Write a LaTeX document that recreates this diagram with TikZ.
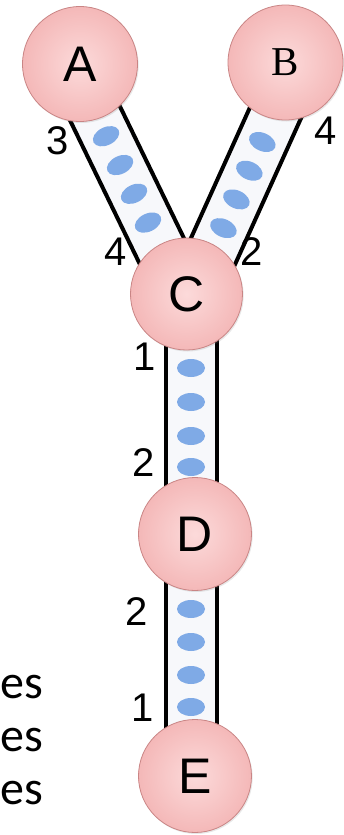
\documentclass[tikz,border=0pt]{standalone}
\usepackage{fontspec}
\setmainfont{Liberation Sans}
\newfontfamily\serifB{Liberation Serif}
\newfontfamily\calib{Carlito}
\usetikzlibrary{shadows}
\definecolor{chfill}{HTML}{F7F8FB}
\definecolor{ovalc}{HTML}{7FAAE6}
\definecolor{pinkin}{HTML}{FCDADA}
\definecolor{pinkout}{HTML}{F4B8B8}
\definecolor{pinkline}{HTML}{C98585}
\pgfdeclarelayer{bg}
\pgfsetlayers{bg,main}
\begin{document}
\begin{tikzpicture}[x=1pt,y=-1pt,
  peer/.style={circle, draw=pinkline, line width=0.8pt, inner color=pinkin,
    outer color=pinkout, minimum size=#1, inner sep=0pt,
    font=\fontsize{50}{50}\selectfont,
    drop shadow={opacity=0.18, shadow xshift=1.2pt, shadow yshift=-1.5pt}},
  peer/.default=115pt,
  wall/.style={line width=4pt, black},
  num/.style={inner sep=0pt, font=\fontsize{40}{40}\selectfont},
  cut/.style={anchor=base west, inner sep=0pt, font=\calib\fontsize{48}{48}\selectfont},
  channel/.pic={
    \fill[chfill] (-86,-25.5) rectangle (86,25.5);
    \draw[wall] (-86,-25.5) -- (86,-25.5);
    \draw[wall] (-86,25.5) -- (86,25.5);
    \foreach \t in {#1} {\fill[ovalc] (\t,0) ellipse [x radius=9pt, y radius=14pt];}
  }]
\useasboundingbox (0,0) rectangle (343,835);
% peers
\node[peer] (A) at (80,64) {A};
\node[peer, font=\serifB\fontsize{41}{41}\selectfont] (B) at (285.5,62.5) {B};
\node[peer=112pt] (C) at (186.5,294) {C};
\node[peer=113pt] (D) at (195,534) {D};
\node[peer=113pt] (E) at (195,776) {E};
% channel anchors
\coordinate (ACm) at (128.8,183);
\coordinate (BCm) at (243.8,183);
\coordinate (CDm) at (191,415);
\coordinate (DEm) at (191,655);
\begin{pgfonlayer}{bg}
  \pic[rotate=-64.1] at (ACm) {channel={-52,-20,12,44}};
  \pic[rotate=-114.3] at (BCm) {channel={-45,-13.5,18,49.5}};
  \pic[rotate=-90] at (CDm) {channel={-47,-13,21,52}};
  \pic[rotate=-90] at (DEm) {channel={-46,-13,20,52}};
\end{pgfonlayer}
% port numbers
\node[num] (n1) at (58,141) {3};
\node[num] (n2) at (116,252) {4};
\node[num] (n3) at (326,131) {4};
\node[num] (n4) at (252,252) {2};
\node[num] (n5) at (144.5,357) {1};
\node[num] (n6) at (144,462.5) {2};
\node[num] (n7) at (137,612) {2};
\node[num] (n8) at (143,708) {1};
% clipped text
\node[cut] (t1) at (0,698) {es};
\node[cut] (t2) at (0,751) {es};
\node[cut] (t3) at (0,804) {es};
\end{tikzpicture}
\end{document}
